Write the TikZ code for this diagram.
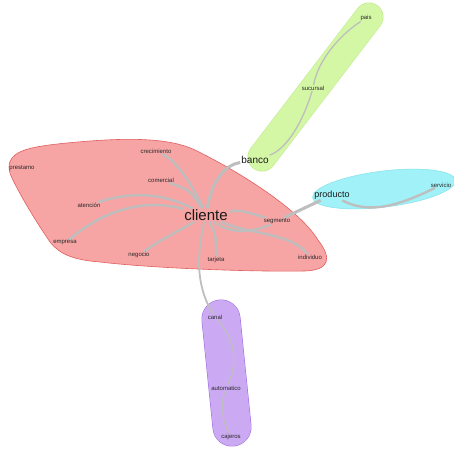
\documentclass[tikz,border=0pt]{standalone}
\usepackage{fontspec}
\setmainfont{Liberation Sans}
\pgfdeclarelayer{blobs}
\pgfdeclarelayer{edges}
\pgfsetlayers{blobs,edges,main}
\definecolor{redfill}{RGB}{246,164,164}
\definecolor{redline}{RGB}{225,95,95}
\definecolor{greenfill}{RGB}{212,247,165}
\definecolor{greenline}{RGB}{190,235,140}
\definecolor{cyanfill}{RGB}{160,242,248}
\definecolor{cyanline}{RGB}{130,225,235}
\definecolor{purplefill}{RGB}{204,170,243}
\definecolor{purpleline}{RGB}{155,105,220}
\definecolor{edgegray}{RGB}{190,190,190}
\definecolor{wordcol}{RGB}{40,40,40}
\tikzset{
  word/.style={inner sep=0.5pt, text=wordcol, font=\fontsize{6}{6}\selectfont},
  hub/.style={inner sep=1pt, text=black!90, font=\fontsize{15}{15}\selectfont},
  midword/.style={inner sep=1pt, text=black!90, font=\fontsize{10}{10}\selectfont},
  link/.style={draw=edgegray, line width=2.4pt},
  thinlink/.style={draw=edgegray, line width=1.3pt},
}
\begin{document}
\begin{tikzpicture}[x=1pt,y=-1pt]
\useasboundingbox (0,0) rectangle (454,450);

% labels (nodes)
\node[hub] (cliente) at (206,215) {cliente};
\node[midword] (banco) at (255,160) {banco};
\node[midword, font=\fontsize{9}{9}\selectfont] (producto) at (332,195) {producto};
\node[word] (prestamo) at (22,168) {prestamo};
\node[word] (crecimiento) at (156,151) {crecimiento};
\node[word] (comercial) at (161,180) {comercial};
\node[word] (atencion) at (89,205) {atención};
\node[word] (empresa) at (65,243) {empresa};
\node[word] (negocio) at (139,255) {negocio};
\node[word] (tarjeta) at (216,260) {tarjeta};
\node[word] (segmento) at (277,221) {segmento};
\node[word] (individuo) at (310,257) {individuo};
\node[word] (sucursal) at (313,88) {sucursal};
\node[word] (pais) at (366,18) {pais};
\node[word] (servicio) at (441,185) {servicio};
\node[word] (canal) at (215,317) {canal};
\node[word] (automatico) at (226,388) {automatico};
\node[word] (cajeros) at (231,437) {cajeros};

% cluster blobs
\begin{pgfonlayer}{blobs}
\draw[fill=redfill, draw=redline, line width=0.6pt]
  (12,158) .. controls (20,148) and (40,145) .. (90,141)
  .. controls (130,138) and (170,138) .. (195,150)
  .. controls (240,172) and (300,210) .. (318,240)
  .. controls (332,258) and (330,270) .. (305,271)
  .. controls (250,272) and (150,268) .. (100,262)
  .. controls (75,260) and (60,255) .. (50,242)
  .. controls (35,220) and (20,195) .. (12,178)
  .. controls (8,170) and (8,163) .. (12,158) -- cycle;
\draw[draw=greenline, line width=29pt, line cap=round] (262,157) -- (369,17);
\draw[draw=greenfill, line width=28pt, line cap=round] (262,157) -- (369,17);
\draw[fill=cyanfill, draw=cyanline, line width=0.5pt, rotate around={7:(384,189)}] (384,189) ellipse [x radius=72, y radius=18];
\draw[draw=purpleline, line width=39pt, line cap=round] (221,319) -- (232,427);
\draw[draw=purplefill, line width=38pt, line cap=round] (221,319) -- (232,427);
\end{pgfonlayer}

% connectors
\begin{pgfonlayer}{edges}
\draw[link] (cliente) .. controls (190,180) and (175,160) .. (crecimiento);
\draw[link] (cliente) .. controls (190,190) .. (comercial);
\draw[link] (cliente) .. controls (160,192) and (130,192) .. (atencion);
\draw[link] (cliente) .. controls (150,200) and (110,205) .. (empresa);
\draw[link] (cliente) .. controls (180,230) and (160,240) .. (negocio);
\draw[link] (cliente) .. controls (216,235) .. (tarjeta);
\draw[link] (cliente) .. controls (240,210) .. (segmento);
\draw[link] (cliente) .. controls (230,235) and (255,232) .. (segmento);
\draw[link] (cliente) .. controls (250,235) and (290,232) .. (individuo);
\draw[link, line width=3pt] (cliente) .. controls (212,180) and (225,165) .. (banco);
\draw[thinlink, line width=1.8pt] (cliente) .. controls (195,260) and (198,290) .. (canal);
\draw[thinlink] (banco) .. controls (285,150) and (302,125) .. (sucursal);
\draw[thinlink] (sucursal) .. controls (318,60) and (340,35) .. (pais);
\draw[link, line width=3pt] (segmento) -- (producto);
\draw[link] (producto) .. controls (370,215) and (400,205) .. (servicio);
\draw[thinlink] (canal) .. controls (240,345) and (235,370) .. (automatico);
\draw[thinlink] (automatico) .. controls (220,405) and (222,420) .. (cajeros);
\end{pgfonlayer}
\end{tikzpicture}
\end{document}
